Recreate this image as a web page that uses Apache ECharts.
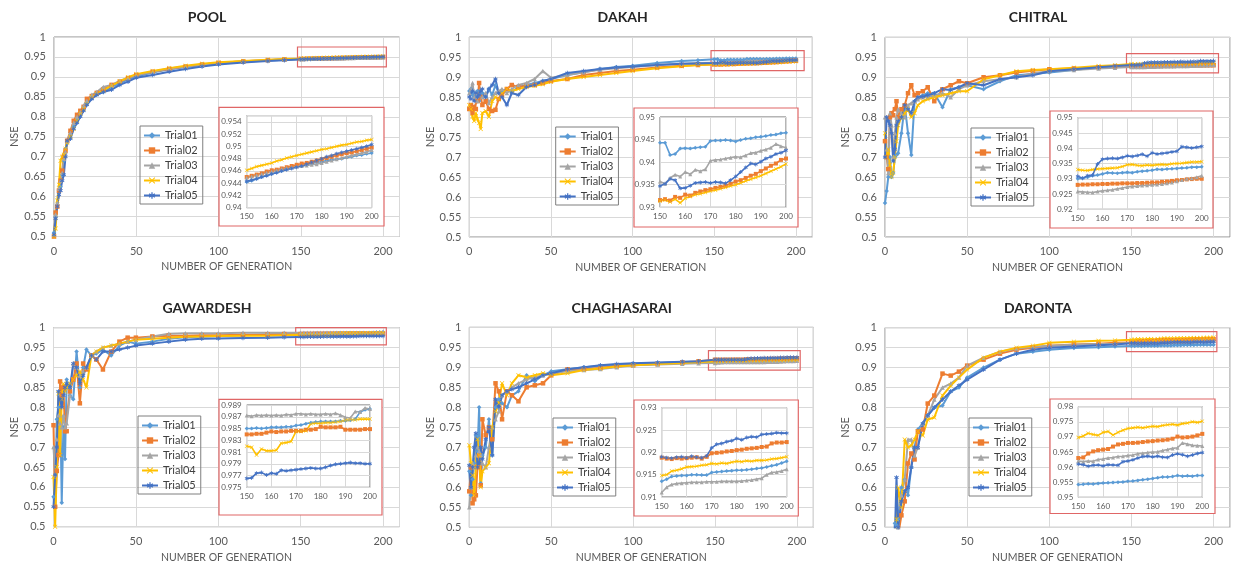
<!DOCTYPE html>
<html lang="en">
<head>
<meta charset="UTF-8">
<title>NSE by generation</title>
<script src="https://cdn.jsdelivr.net/npm/echarts@6/dist/echarts.min.js"></script>
<style>html,body{margin:0;padding:0;background:#fff}</style>
</head>
<body>
<div id="main" style="width:1233px;height:566px"></div>
<script>
// names
var trials = ['Trial01', 'Trial02', 'Trial03', 'Trial04', 'Trial05'];
var stations = ['POOL', 'DAKAH', 'CHITRAL', 'GAWARDESH', 'CHAGHASARAI', 'DARONTA'];
var trialColors = ['#5B9BD5', '#ED7D31', '#A5A5A5', '#FFC000', '#4472C4'];

// generations (before 150) and the zoom boxes (150-200)
var gensMain = [0,1,2,3,4,5,6,7,8,10,12,14,16,18,20,23,26,30,35,40,45,50,60,70,80,90,100,115,130,140];
var gensZoom = [150,152,154,156,158,160,162,164,166,168,170,172,174,176,178,180,182,184,186,188,190,192,194,196,198,200];

// zoom box y ranges / tick step
var zoomYMin = [0.94, 0.93, 0.92, 0.975, 0.91, 0.95];
var zoomYMax = [0.955, 0.95, 0.95, 0.989, 0.93, 0.98];
var zoomYStep = [0.002, 0.005, 0.005, 0.002, 0.005, 0.005];
// red boxes on the main plots (generation / NSE)
var boxGen = [[148, 202], [148, 205], [147, 203], [147, 202], [146, 202], [147, 202]];
var boxNse = [[0.925, 0.975], [0.916, 0.966], [0.911, 0.959], [0.957, 1.007], [0.893, 0.9415], [0.94, 0.99]];

// ---- POOL
var poolEarly = [
  [0.510,0.550,0.580,0.610,0.625,0.655,0.690,0.720,0.735,0.760,0.775,0.795,0.810,0.822,0.835,0.848,0.856,0.862,0.875,0.884,0.894,0.901,0.911,0.919,0.925,0.930,0.934,0.938,0.941,0.943],
  [0.500,0.560,0.575,0.615,0.640,0.665,0.700,0.715,0.740,0.765,0.790,0.805,0.815,0.825,0.845,0.852,0.860,0.868,0.880,0.888,0.897,0.905,0.913,0.920,0.926,0.931,0.935,0.939,0.942,0.944],
  [0.505,0.555,0.585,0.620,0.640,0.660,0.695,0.712,0.738,0.760,0.785,0.800,0.812,0.828,0.840,0.855,0.862,0.875,0.880,0.890,0.898,0.905,0.913,0.921,0.926,0.931,0.935,0.939,0.942,0.944],
  [0.500,0.520,0.590,0.630,0.690,0.700,0.705,0.720,0.735,0.750,0.770,0.790,0.808,0.820,0.833,0.850,0.858,0.866,0.878,0.889,0.899,0.907,0.915,0.922,0.928,0.933,0.937,0.940,0.943,0.945],
  [0.505,0.545,0.575,0.605,0.615,0.640,0.655,0.700,0.740,0.745,0.770,0.785,0.800,0.815,0.830,0.845,0.855,0.862,0.868,0.880,0.888,0.898,0.905,0.913,0.920,0.926,0.931,0.936,0.940,0.942]
];
var poolZoom = [
  [0.9442,0.9444,0.9447,0.9450,0.9453,0.9455,0.9458,0.9460,0.9463,0.9465,0.9467,0.9468,0.9470,0.9472,0.9474,0.9475,0.9477,0.9478,0.9479,0.9480,0.9482,0.9483,0.9485,0.9486,0.9488,0.9489],
  [0.9450,0.9452,0.9454,0.9456,0.9459,0.9461,0.9462,0.9464,0.9466,0.9468,0.9470,0.9472,0.9473,0.9475,0.9477,0.9479,0.9481,0.9483,0.9485,0.9487,0.9489,0.9490,0.9492,0.9494,0.9496,0.9498],
  [0.9449,0.9451,0.9453,0.9455,0.9457,0.9459,0.9461,0.9463,0.9465,0.9466,0.9467,0.9468,0.9469,0.9470,0.9471,0.9473,0.9475,0.9477,0.9479,0.9481,0.9483,0.9485,0.9487,0.9489,0.9491,0.9494],
  [0.9461,0.9464,0.9467,0.9469,0.9471,0.9473,0.9476,0.9478,0.9481,0.9483,0.9485,0.9487,0.9489,0.9491,0.9493,0.9495,0.9496,0.9498,0.9500,0.9502,0.9503,0.9505,0.9507,0.9508,0.9510,0.9511],
  [0.9443,0.9445,0.9447,0.9450,0.9452,0.9455,0.9457,0.9460,0.9462,0.9464,0.9466,0.9468,0.9471,0.9474,0.9477,0.9480,0.9483,0.9485,0.9488,0.9490,0.9492,0.9494,0.9496,0.9498,0.9500,0.9503]
];

// ---- DAKAH
var dakahEarly = [
  [0.865,0.870,0.855,0.860,0.850,0.865,0.840,0.855,0.860,0.850,0.870,0.855,0.880,0.860,0.865,0.870,0.862,0.875,0.880,0.885,0.890,0.895,0.905,0.912,0.920,0.925,0.928,0.935,0.940,0.942],
  [0.820,0.830,0.810,0.825,0.820,0.840,0.885,0.850,0.830,0.840,0.820,0.815,0.818,0.845,0.855,0.870,0.880,0.875,0.878,0.880,0.885,0.890,0.895,0.905,0.910,0.915,0.918,0.924,0.928,0.930],
  [0.860,0.870,0.885,0.850,0.860,0.840,0.855,0.870,0.850,0.860,0.835,0.850,0.860,0.865,0.870,0.860,0.870,0.880,0.885,0.895,0.915,0.898,0.905,0.912,0.918,0.922,0.925,0.930,0.933,0.935],
  [0.830,0.820,0.800,0.790,0.810,0.795,0.785,0.770,0.810,0.815,0.800,0.840,0.850,0.845,0.860,0.870,0.865,0.870,0.875,0.878,0.882,0.888,0.895,0.900,0.905,0.910,0.915,0.922,0.927,0.930],
  [0.850,0.845,0.865,0.840,0.860,0.850,0.855,0.865,0.870,0.850,0.870,0.880,0.895,0.860,0.850,0.830,0.860,0.855,0.875,0.880,0.890,0.895,0.910,0.915,0.920,0.924,0.926,0.930,0.933,0.934]
];
var dakahZoom = [
  [0.9443,0.9443,0.9416,0.9418,0.9430,0.9431,0.9430,0.9432,0.9433,0.9434,0.9447,0.9448,0.9448,0.9449,0.9448,0.9446,0.9449,0.9452,0.9453,0.9455,0.9456,0.9458,0.9460,0.9461,0.9464,0.9465],
  [0.9316,0.9318,0.9315,0.9323,0.9321,0.9328,0.9326,0.9332,0.9335,0.9338,0.9340,0.9343,0.9345,0.9348,0.9352,0.9357,0.9360,0.9365,0.9370,0.9374,0.9380,0.9386,0.9392,0.9397,0.9405,0.9408],
  [0.9357,0.9352,0.9365,0.9372,0.9368,0.9378,0.9373,0.9383,0.9380,0.9384,0.9403,0.9405,0.9406,0.9408,0.9410,0.9412,0.9411,0.9415,0.9420,0.9421,0.9425,0.9428,0.9432,0.9440,0.9435,0.9432],
  [0.9314,0.9316,0.9312,0.9318,0.9310,0.9320,0.9324,0.9328,0.9330,0.9333,0.9336,0.9338,0.9341,0.9344,0.9347,0.9350,0.9354,0.9358,0.9362,0.9366,0.9370,0.9375,0.9380,0.9385,0.9390,0.9396],
  [0.9347,0.9352,0.9363,0.9360,0.9342,0.9343,0.9348,0.9354,0.9355,0.9356,0.9354,0.9356,0.9355,0.9353,0.9360,0.9368,0.9378,0.9388,0.9397,0.9395,0.9401,0.9408,0.9412,0.9418,0.9421,0.9426]
];

// ---- CHITRAL
var chitralEarly = [
  [0.585,0.615,0.650,0.700,0.650,0.660,0.700,0.705,0.710,0.760,0.830,0.760,0.705,0.840,0.850,0.855,0.860,0.860,0.825,0.870,0.875,0.880,0.870,0.890,0.905,0.908,0.912,0.918,0.925,0.928],
  [0.740,0.700,0.670,0.800,0.810,0.805,0.820,0.840,0.800,0.820,0.830,0.860,0.880,0.855,0.860,0.865,0.875,0.840,0.870,0.880,0.890,0.885,0.900,0.905,0.912,0.916,0.920,0.922,0.925,0.927],
  [0.800,0.720,0.660,0.810,0.780,0.700,0.760,0.800,0.820,0.810,0.800,0.830,0.835,0.840,0.845,0.850,0.850,0.855,0.860,0.850,0.870,0.880,0.890,0.895,0.900,0.910,0.915,0.918,0.922,0.924],
  [0.760,0.700,0.720,0.680,0.650,0.660,0.700,0.740,0.780,0.800,0.810,0.820,0.800,0.810,0.830,0.840,0.845,0.850,0.855,0.860,0.865,0.865,0.895,0.905,0.915,0.918,0.920,0.924,0.928,0.930],
  [0.700,0.800,0.790,0.780,0.760,0.690,0.720,0.780,0.790,0.800,0.830,0.820,0.810,0.840,0.850,0.852,0.855,0.860,0.870,0.868,0.875,0.885,0.880,0.895,0.900,0.905,0.915,0.920,0.925,0.928]
];
var chitralZoom = [
  [0.9300,0.9302,0.9305,0.9310,0.9312,0.9316,0.9320,0.9319,0.9318,0.9320,0.9321,0.9320,0.9323,0.9325,0.9326,0.9328,0.9331,0.9330,0.9332,0.9333,0.9334,0.9335,0.9336,0.9338,0.9338,0.9339],
  [0.9280,0.9281,0.9281,0.9282,0.9282,0.9283,0.9283,0.9284,0.9284,0.9285,0.9285,0.9285,0.9286,0.9286,0.9287,0.9288,0.9288,0.9290,0.9291,0.9293,0.9295,0.9296,0.9298,0.9299,0.9300,0.9300],
  [0.9258,0.9257,0.9256,0.9255,0.9258,0.9261,0.9262,0.9264,0.9267,0.9270,0.9273,0.9275,0.9276,0.9278,0.9279,0.9280,0.9281,0.9283,0.9285,0.9288,0.9292,0.9296,0.9300,0.9302,0.9305,0.9310],
  [0.9330,0.9328,0.9327,0.9330,0.9332,0.9333,0.9334,0.9335,0.9336,0.9340,0.9346,0.9347,0.9344,0.9343,0.9345,0.9344,0.9346,0.9347,0.9346,0.9349,0.9350,0.9351,0.9353,0.9355,0.9355,0.9356],
  [0.9308,0.9302,0.9310,0.9312,0.9348,0.9364,0.9366,0.9367,0.9366,0.9370,0.9375,0.9373,0.9376,0.9380,0.9374,0.9385,0.9381,0.9383,0.9385,0.9388,0.9390,0.9405,0.9403,0.9401,0.9403,0.9406]
];

// ---- GAWARDESH
var gawardeshEarly = [
  [0.575,0.550,0.770,0.800,0.830,0.560,0.750,0.670,0.870,0.830,0.820,0.940,0.850,0.900,0.945,0.930,0.935,0.945,0.930,0.955,0.965,0.960,0.965,0.972,0.976,0.978,0.979,0.981,0.983,0.984],
  [0.755,0.550,0.640,0.680,0.865,0.830,0.850,0.740,0.740,0.840,0.870,0.910,0.810,0.910,0.895,0.930,0.920,0.895,0.940,0.965,0.975,0.975,0.978,0.980,0.980,0.981,0.981,0.982,0.983,0.984],
  [0.700,0.630,0.720,0.780,0.760,0.750,0.780,0.750,0.760,0.830,0.910,0.900,0.880,0.890,0.900,0.930,0.940,0.950,0.955,0.960,0.965,0.970,0.978,0.985,0.986,0.986,0.986,0.987,0.987,0.987],
  [0.625,0.500,0.650,0.835,0.680,0.820,0.860,0.840,0.850,0.860,0.870,0.880,0.890,0.870,0.850,0.930,0.940,0.950,0.955,0.960,0.965,0.970,0.972,0.975,0.977,0.978,0.979,0.980,0.980,0.981],
  [0.550,0.630,0.700,0.840,0.820,0.800,0.830,0.850,0.860,0.850,0.910,0.900,0.860,0.880,0.900,0.930,0.920,0.940,0.940,0.945,0.950,0.955,0.960,0.965,0.970,0.972,0.973,0.974,0.975,0.976]
];
var gawardeshZoom = [
  [0.9850,0.9850,0.9851,0.9850,0.9851,0.9852,0.9852,0.9852,0.9853,0.9853,0.9855,0.9856,0.9858,0.9860,0.9861,0.9862,0.9862,0.9862,0.9862,0.9863,0.9863,0.9864,0.9866,0.9878,0.9882,0.9883],
  [0.9840,0.9840,0.9841,0.9841,0.9843,0.9845,0.9844,0.9845,0.9845,0.9846,0.9846,0.9846,0.9848,0.9848,0.9849,0.9853,0.9852,0.9852,0.9852,0.9853,0.9848,0.9848,0.9848,0.9848,0.9849,0.9849],
  [0.9872,0.9871,0.9873,0.9872,0.9873,0.9872,0.9873,0.9872,0.9874,0.9873,0.9875,0.9875,0.9874,0.9875,0.9874,0.9874,0.9875,0.9874,0.9876,0.9873,0.9869,0.9868,0.9879,0.9878,0.9885,0.9883],
  [0.9820,0.9818,0.9805,0.9815,0.9812,0.9812,0.9813,0.9825,0.9826,0.9828,0.9845,0.9845,0.9846,0.9858,0.9859,0.9859,0.9860,0.9860,0.9861,0.9862,0.9864,0.9865,0.9865,0.9866,0.9866,0.9866],
  [0.9765,0.9766,0.9774,0.9775,0.9771,0.9774,0.9773,0.9779,0.9778,0.9779,0.9780,0.9781,0.9782,0.9783,0.9782,0.9782,0.9784,0.9787,0.9789,0.9790,0.9791,0.9792,0.9791,0.9791,0.9790,0.9790]
];

// ---- CHAGHASARAI
var chaghasaraiEarly = [
  [0.640,0.580,0.620,0.660,0.730,0.690,0.800,0.610,0.680,0.700,0.770,0.680,0.800,0.820,0.810,0.800,0.830,0.840,0.880,0.865,0.880,0.890,0.895,0.900,0.903,0.906,0.909,0.911,0.913,0.914],
  [0.590,0.650,0.560,0.570,0.580,0.650,0.680,0.605,0.770,0.730,0.750,0.720,0.860,0.840,0.770,0.840,0.830,0.815,0.850,0.855,0.860,0.880,0.895,0.895,0.898,0.903,0.905,0.908,0.912,0.915],
  [0.550,0.600,0.660,0.650,0.680,0.700,0.690,0.680,0.660,0.650,0.700,0.750,0.770,0.790,0.830,0.840,0.850,0.860,0.870,0.875,0.880,0.885,0.890,0.893,0.896,0.900,0.905,0.907,0.909,0.910],
  [0.705,0.660,0.630,0.580,0.650,0.720,0.680,0.600,0.640,0.650,0.660,0.750,0.790,0.810,0.860,0.830,0.860,0.880,0.875,0.880,0.885,0.880,0.885,0.893,0.897,0.902,0.905,0.908,0.911,0.913],
  [0.655,0.600,0.650,0.700,0.735,0.650,0.660,0.700,0.670,0.720,0.750,0.680,0.820,0.800,0.830,0.840,0.845,0.850,0.860,0.870,0.880,0.885,0.895,0.900,0.905,0.908,0.910,0.912,0.914,0.915]
];
var chaghasaraiZoom = [
  [0.9135,0.9140,0.9146,0.9147,0.9148,0.9148,0.9150,0.9150,0.9149,0.9149,0.9155,0.9156,0.9157,0.9158,0.9159,0.9160,0.9160,0.9161,0.9162,0.9164,0.9165,0.9167,0.9170,0.9172,0.9176,0.9180],
  [0.9188,0.9186,0.9185,0.9187,0.9186,0.9187,0.9188,0.9189,0.9186,0.9190,0.9198,0.9199,0.9200,0.9202,0.9203,0.9205,0.9206,0.9208,0.9209,0.9210,0.9212,0.9213,0.9220,0.9222,0.9222,0.9223],
  [0.9110,0.9122,0.9128,0.9130,0.9131,0.9132,0.9133,0.9133,0.9133,0.9134,0.9134,0.9134,0.9135,0.9135,0.9135,0.9135,0.9136,0.9137,0.9138,0.9140,0.9142,0.9150,0.9155,0.9156,0.9158,0.9162],
  [0.9148,0.9150,0.9158,0.9160,0.9163,0.9167,0.9168,0.9169,0.9171,0.9172,0.9175,0.9174,0.9176,0.9175,0.9178,0.9180,0.9179,0.9181,0.9180,0.9182,0.9182,0.9183,0.9185,0.9186,0.9188,0.9190],
  [0.9190,0.9188,0.9187,0.9189,0.9190,0.9188,0.9191,0.9189,0.9188,0.9192,0.9210,0.9218,0.9220,0.9224,0.9226,0.9231,0.9228,0.9233,0.9235,0.9234,0.9240,0.9241,0.9242,0.9244,0.9243,0.9243]
];

// ---- DARONTA
var darontaEarly = [
  [0.310,0.280,0.360,0.330,0.410,0.440,0.510,0.505,0.520,0.600,0.620,0.580,0.650,0.700,0.745,0.760,0.780,0.800,0.805,0.840,0.850,0.875,0.900,0.920,0.935,0.940,0.945,0.949,0.951,0.953],
  [0.250,0.320,0.290,0.350,0.380,0.360,0.420,0.470,0.480,0.530,0.565,0.660,0.685,0.670,0.740,0.745,0.810,0.830,0.885,0.880,0.890,0.905,0.920,0.935,0.945,0.950,0.955,0.958,0.960,0.962],
  [0.280,0.340,0.300,0.380,0.410,0.430,0.460,0.480,0.500,0.580,0.620,0.720,0.720,0.680,0.700,0.760,0.780,0.820,0.850,0.860,0.875,0.905,0.925,0.940,0.948,0.952,0.955,0.957,0.959,0.960],
  [0.300,0.270,0.350,0.330,0.420,0.450,0.480,0.520,0.600,0.550,0.720,0.700,0.705,0.720,0.740,0.730,0.770,0.775,0.830,0.855,0.875,0.895,0.925,0.940,0.950,0.955,0.962,0.965,0.967,0.968],
  [0.260,0.300,0.330,0.310,0.390,0.450,0.480,0.625,0.500,0.565,0.590,0.600,0.650,0.700,0.700,0.760,0.780,0.800,0.820,0.840,0.855,0.870,0.895,0.920,0.935,0.945,0.950,0.953,0.956,0.958]
];
var darontaZoom = [
  [0.9542,0.9543,0.9545,0.9544,0.9546,0.9547,0.9548,0.9549,0.9550,0.9551,0.9553,0.9554,0.9556,0.9558,0.9560,0.9562,0.9565,0.9567,0.9567,0.9569,0.9572,0.9570,0.9571,0.9570,0.9572,0.9572],
  [0.9630,0.9632,0.9645,0.9652,0.9656,0.9658,0.9660,0.9668,0.9675,0.9677,0.9680,0.9680,0.9681,0.9683,0.9685,0.9686,0.9688,0.9689,0.9691,0.9694,0.9701,0.9698,0.9699,0.9701,0.9705,0.9710],
  [0.9620,0.9618,0.9620,0.9619,0.9625,0.9627,0.9630,0.9632,0.9635,0.9636,0.9638,0.9640,0.9644,0.9646,0.9648,0.9650,0.9651,0.9655,0.9658,0.9662,0.9664,0.9680,0.9676,0.9672,0.9671,0.9670],
  [0.9698,0.9703,0.9712,0.9708,0.9705,0.9715,0.9718,0.9706,0.9715,0.9722,0.9728,0.9730,0.9732,0.9730,0.9733,0.9735,0.9734,0.9738,0.9740,0.9742,0.9739,0.9744,0.9746,0.9750,0.9748,0.9752],
  [0.9610,0.9608,0.9603,0.9606,0.9607,0.9604,0.9608,0.9607,0.9606,0.9618,0.9620,0.9624,0.9630,0.9635,0.9636,0.9634,0.9636,0.9633,0.9632,0.9640,0.9644,0.9641,0.9636,0.9640,0.9645,0.9648]
];

var earlyData = [poolEarly, dakahEarly, chitralEarly, gawardeshEarly, chaghasaraiEarly, darontaEarly];
var zoomData = [poolZoom, dakahZoom, chitralZoom, gawardeshZoom, chaghasaraiZoom, darontaZoom];

// layout in px: [left, top, width, height]
var mainBox = [[54, 37, 345.5, 199.5], [469.3, 37, 343, 200], [885, 37.3, 345, 199.7],
               [53.5, 327.7, 346, 199], [469.3, 327.3, 344, 200], [885, 327.7, 345, 199.6]];
var zoomBox = [[246.7, 115.7, 125, 92], [660, 117, 126, 90.3], [1077.7, 117.7, 124, 91.6],
               [246.7, 405, 123.3, 82.3], [661.7, 407.7, 125, 89.3], [1078.3, 406.7, 124, 90.6]];
var frameBox = [[219, 107.3, 165, 118.7], [634, 108, 164, 119], [1050, 111, 163, 117],
                [219, 399.3, 163, 115.7], [634, 400, 164.3, 116], [1050, 399, 165, 114.5]];
var legendPos = [[140, 126], [555.7, 127], [971, 128], [138, 416], [553, 418], [969, 418]];
var titlePos = [[207, 17], [622.7, 17], [1038, 17], [207, 308], [621.7, 308], [1038, 308]];

var FONT = 'Lato, "Open Sans", sans-serif';
var labelGrey = '#595959';
var frameRed = '#E06666';
var xMark = 'path://M1,0L5,4L9,0L10,1L6,5L10,9L9,10L5,6L1,10L0,9L4,5L0,1Z';
var starMark = 'path://M4,0H6V3.3L9,1.6L10,3.3L7,5L10,6.7L9,8.4L6,6.7V10H4V6.7L1,8.4L0,6.7L3,5L0,3.3L1,1.6L4,3.3Z';
var marks = ['diamond', 'rect', 'triangle', xMark, starMark];

function pairs(xs, ys) {
    return xs.map(function (x, i) { return [x, ys[i]]; });
}
function stepLabel(min, step) {
    return function (v) {
        var k = (v - min) / step;
        return Math.abs(k - Math.round(k)) < 1e-6 ? String(+v.toFixed(4)) : '';
    };
}

var grid = [], xAxis = [], yAxis = [], series = [], legend = [], graphic = [];

stations.forEach(function (name, p) {
    var m = mainBox[p], z = zoomBox[p], f = frameBox[p];
    var gi = grid.length;
    grid.push({left: m[0], top: m[1], width: m[2], height: m[3], show: true,
        borderColor: '#8c8c8c', borderWidth: 1, z: 0});
    grid.push({left: z[0], top: z[1], width: z[2], height: z[3], show: true,
        backgroundColor: '#fff', borderColor: '#6b6b6b', borderWidth: 1, z: 4});

    xAxis.push({
        type: 'value', gridIndex: gi, min: 0, max: 210, interval: 50,
        name: 'NUMBER OF GENERATION', nameLocation: 'middle', nameGap: 25,
        nameTextStyle: {fontFamily: FONT, fontSize: 10.5, color: labelGrey},
        axisLine: {show: false}, axisTick: {show: false},
        axisLabel: {margin: 9, fontFamily: FONT, fontSize: 11, color: labelGrey, formatter: stepLabel(0, 50)},
        splitLine: {lineStyle: {color: '#d9d9d9'}}
    });
    yAxis.push({
        type: 'value', gridIndex: gi, min: 0.5, max: 1, interval: 0.05,
        name: 'NSE', nameLocation: 'middle', nameGap: 33, nameRotate: 90,
        nameTextStyle: {fontFamily: FONT, fontSize: 11, color: labelGrey},
        axisLine: {show: false}, axisTick: {show: false},
        axisLabel: {margin: 8, fontFamily: FONT, fontSize: 11, color: labelGrey},
        splitLine: {lineStyle: {color: '#d9d9d9'}}
    });
    xAxis.push({
        type: 'value', gridIndex: gi + 1, min: 150, max: 200, interval: 10, z: 5,
        axisLine: {show: false}, axisTick: {show: false},
        axisLabel: {margin: 5, fontFamily: FONT, fontSize: 8, color: labelGrey},
        splitLine: {lineStyle: {color: '#d9d9d9'}}
    });
    yAxis.push({
        type: 'value', gridIndex: gi + 1, min: zoomYMin[p], max: zoomYMax[p], interval: zoomYStep[p], z: 5,
        axisLine: {show: false}, axisTick: {show: false},
        axisLabel: {margin: 5, fontFamily: FONT, fontSize: 8, color: labelGrey,
            formatter: stepLabel(zoomYMin[p], zoomYStep[p])},
        splitLine: {lineStyle: {color: '#d9d9d9'}}
    });

    trials.forEach(function (t, k) {
        var full = pairs(gensMain, earlyData[p][k]).concat(pairs(gensZoom, zoomData[p][k]));
        series.push({
            type: 'line', name: t, xAxisIndex: gi, yAxisIndex: gi, data: full, z: 2,
            symbol: marks[k], symbolSize: 4.5, showSymbol: true,
            lineStyle: {width: 2, color: trialColors[k]},
            itemStyle: {color: trialColors[k]}
        });
        series.push({
            type: 'line', name: t, xAxisIndex: gi + 1, yAxisIndex: gi + 1,
            data: pairs(gensZoom, zoomData[p][k]), z: 6,
            symbol: marks[k], symbolSize: 4, showSymbol: true,
            lineStyle: {width: 1.6, color: trialColors[k]},
            itemStyle: {color: trialColors[k]}
        });
    });

    // red box on the main plot marking the zoomed window
    series.push({
        type: 'line', name: 'window' + p, xAxisIndex: gi, yAxisIndex: gi, data: [],
        silent: true, clip: false, z: 3,
        markArea: {
            silent: true,
            itemStyle: {color: 'rgba(0,0,0,0)', borderColor: frameRed, borderWidth: 1.2},
            data: [[{xAxis: boxGen[p][0], yAxis: boxNse[p][0]}, {xAxis: boxGen[p][1], yAxis: boxNse[p][1]}]]
        }
    });

    legend.push({
        orient: 'vertical', left: legendPos[p][0], top: legendPos[p][1], data: trials,
        selectedMode: false, borderColor: '#7f7f7f', borderWidth: 1,
        padding: [4, 5, 3, 3], itemGap: 4, itemWidth: 16, itemHeight: 8,
        textStyle: {fontFamily: FONT, fontSize: 11, color: '#404040'}
    });

    graphic.push({
        type: 'rect', z: 3, silent: true,
        shape: {x: f[0], y: f[1], width: f[2], height: f[3]},
        style: {fill: '#fff', stroke: frameRed, lineWidth: 1.2}
    });
    graphic.push({
        type: 'text', z: 10, silent: true, x: titlePos[p][0], y: titlePos[p][1],
        style: {text: name, font: 'bold 14px ' + FONT, fill: '#262626',
            align: 'center', verticalAlign: 'middle', textAlign: 'center', textVerticalAlign: 'middle'}
    });
});

var chartDom = document.getElementById('main');
var myChart = echarts.init(chartDom);
var option = {
    animation: false,
    backgroundColor: '#fff',
    color: trialColors,
    grid: grid,
    xAxis: xAxis,
    yAxis: yAxis,
    legend: legend,
    graphic: {elements: graphic},
    series: series
};
option && myChart.setOption(option);
</script>
</body>
</html>
